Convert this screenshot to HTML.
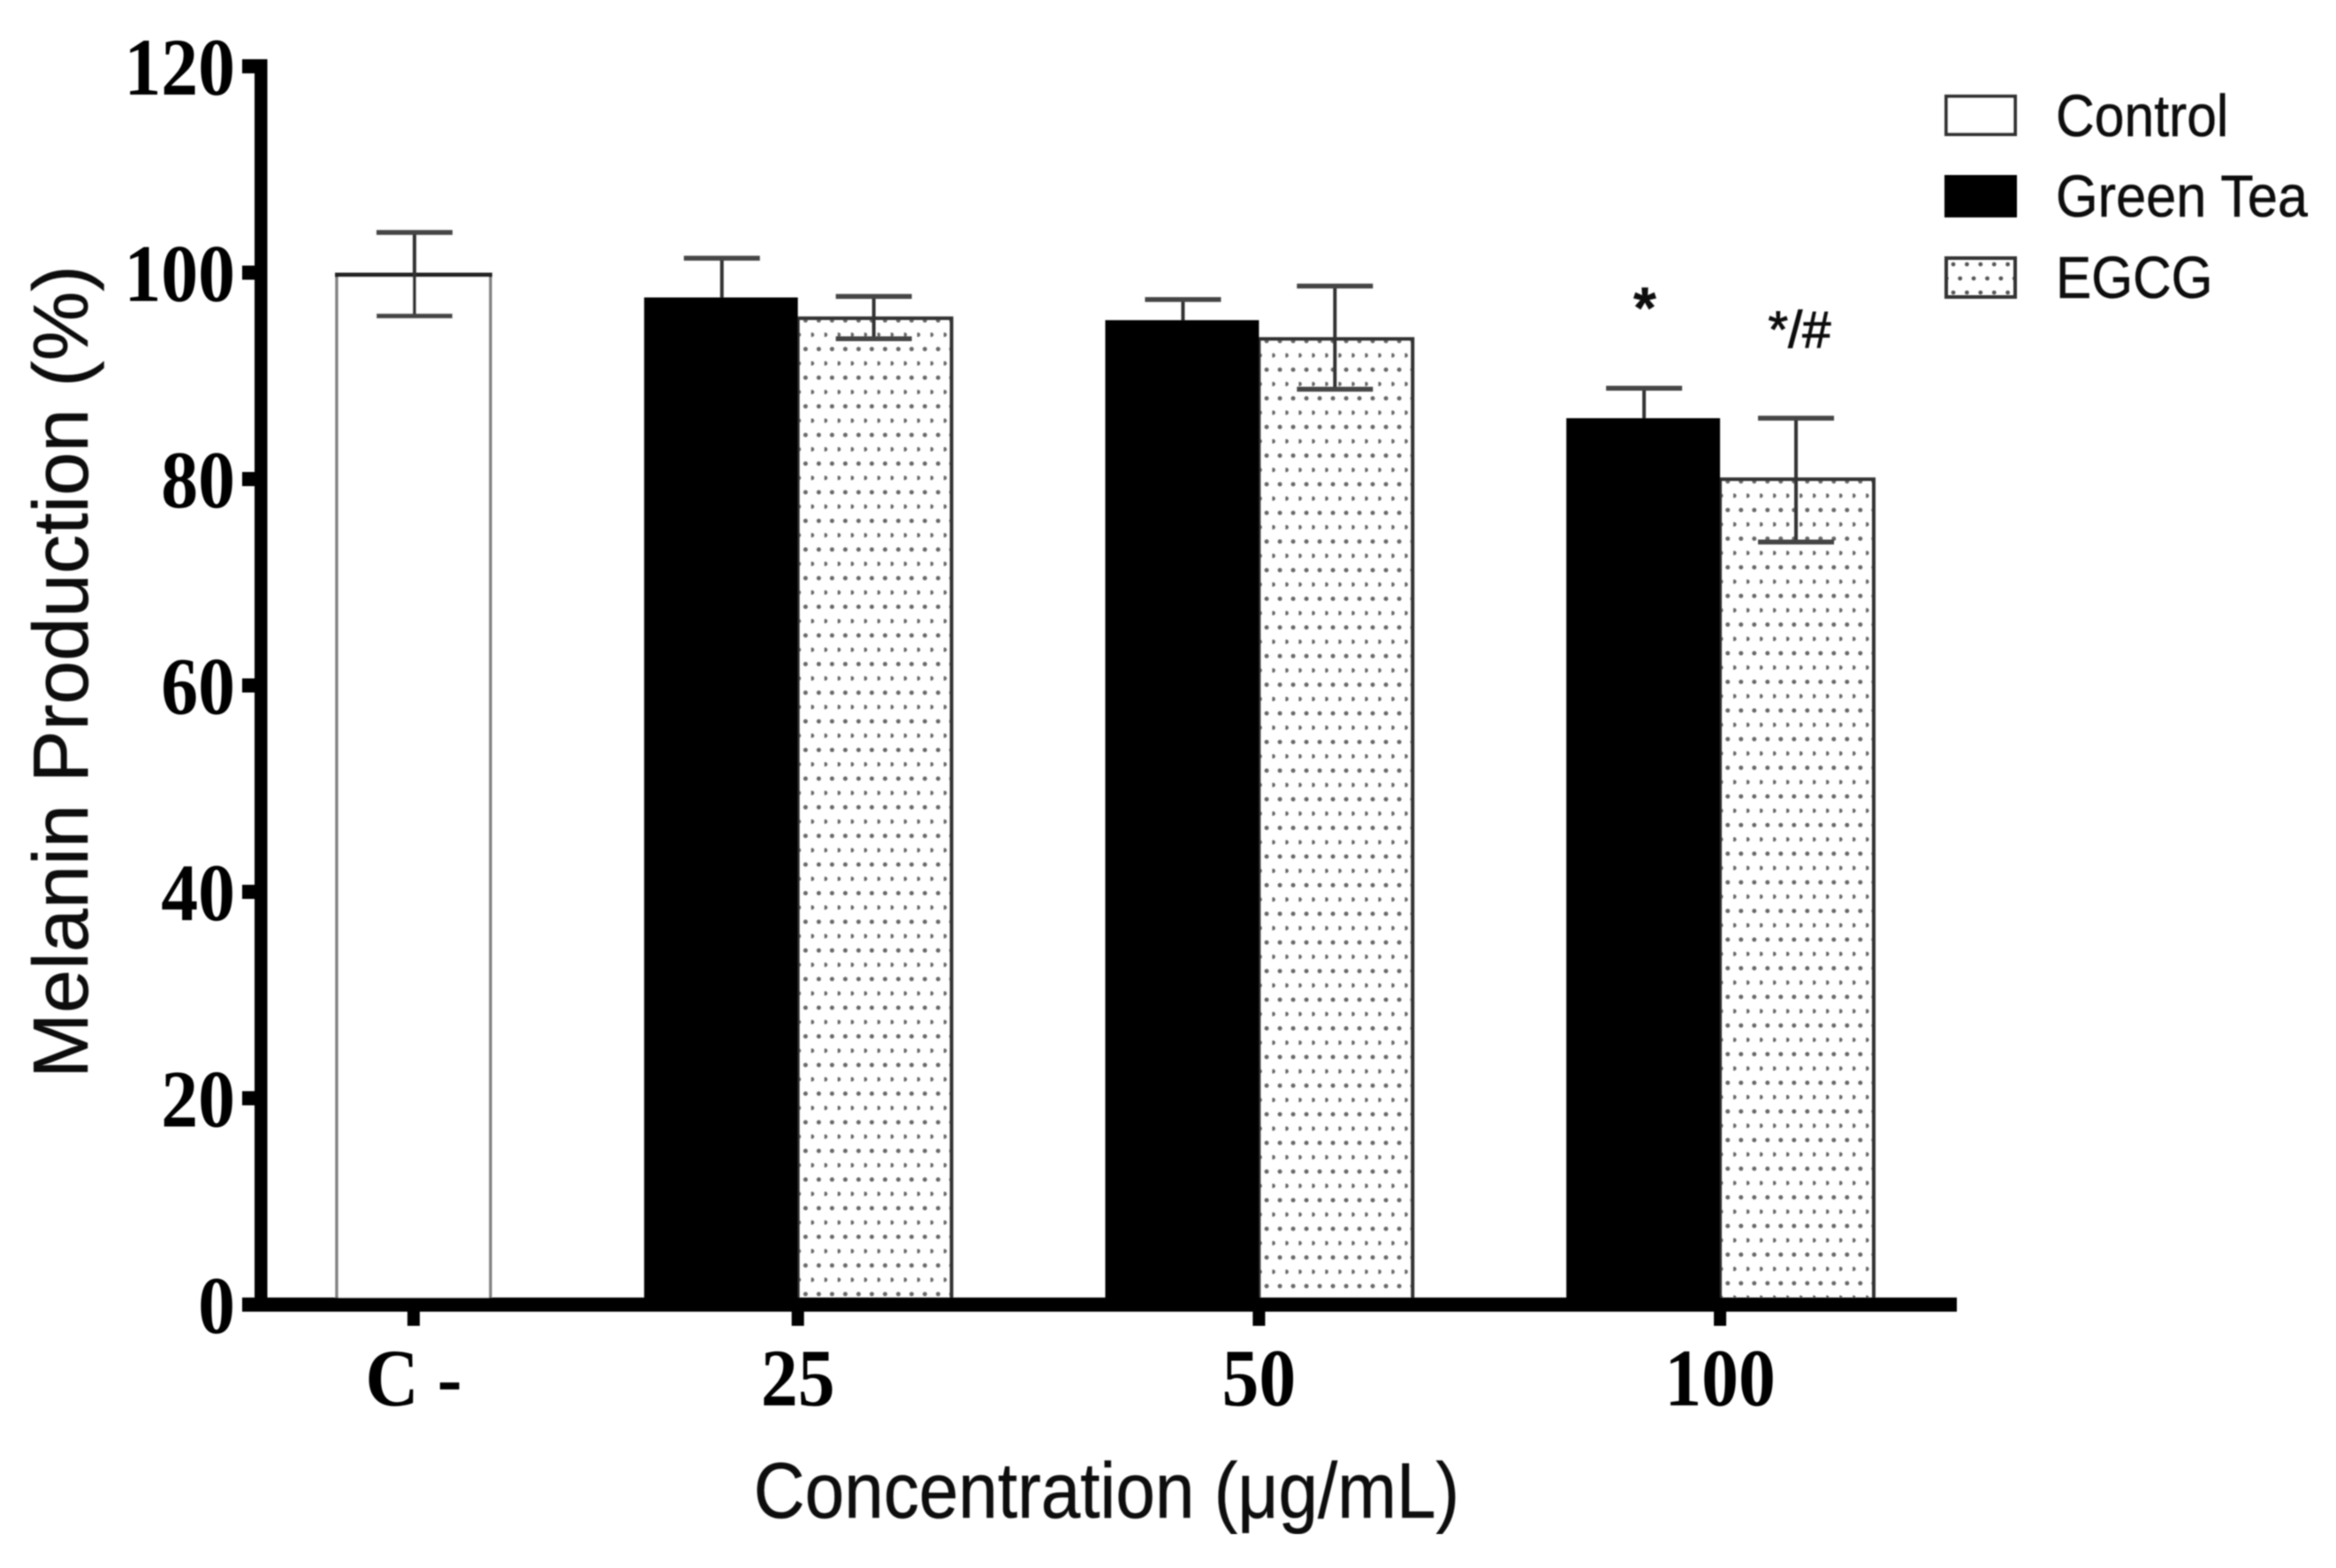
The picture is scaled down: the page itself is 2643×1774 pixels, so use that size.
<!DOCTYPE html>
<html lang="en">
<head>
<meta charset="utf-8">
<title>Melanin Production Chart</title>
<style>
html,body{margin:0;padding:0;background:#fff;}
svg{display:block;}
.sans{font-family:"Liberation Sans",Arial,sans-serif;fill:#111;stroke:#111;stroke-width:0.5px;}
.serif{font-family:"Liberation Serif","Times New Roman",serif;font-weight:700;fill:#000;}
</style>
</head>
<body>
<svg id="chart" xmlns="http://www.w3.org/2000/svg" width="2643" height="1774" viewBox="0 0 2643 1774">
  <defs>
    <filter id="soft" x="0" y="0" width="100%" height="100%"><feGaussianBlur stdDeviation="0.7"/></filter>
    <pattern id="legend-dots" patternUnits="userSpaceOnUse" width="15.4" height="32" patternTransform="translate(2200 290)">
      <circle cx="10" cy="9" r="2.4" fill="#555"/>
      <circle cx="17.6" cy="25" r="2.4" fill="#555"/>
      <circle cx="2.3" cy="25" r="2.4" fill="#555"/>
    </pattern>
  </defs>
  <rect x="0" y="0" width="2643" height="1774" fill="#fff"/>
  <g id="plot" filter="url(#soft)">
    <g id="bars"></g>
    <g id="errors"></g>
    <g id="axes"></g>
    <text class="sans" transform="translate(99 760) rotate(-90)" text-anchor="middle" font-size="88.5">Melanin Production (%)</text>
    <text class="sans" transform="translate(1252 1717) scale(0.9 1)" text-anchor="middle" font-size="89">Concentration (μg/mL)</text>
    <text class="sans" x="1861" y="371" text-anchor="middle" font-size="66" font-weight="700">*</text>
    <text class="sans" x="2036" y="393" text-anchor="middle" font-size="58" style="stroke-width:1px">*/#</text>
    <g>
      <g>
        <rect x="2202" y="109" width="78" height="43" fill="#fff" stroke="#333" stroke-width="4"/>
        <text class="sans" transform="translate(2326 154) scale(0.905 1)" font-size="67">Control</text>
      </g>
      <g>
        <rect x="2200" y="198" width="82" height="48" fill="#000"/>
        <text class="sans" transform="translate(2326 245) scale(0.915 1)" font-size="67">Green Tea</text>
      </g>
      <g>
        <rect x="2202" y="292" width="78" height="44" fill="url(#legend-dots)" stroke="#333" stroke-width="4"/>
        <text class="sans" transform="translate(2326 337) scale(0.9 1)" font-size="67">EGCG</text>
      </g>
    </g>
  </g>
</svg>
<script>
const categories = ['C -', '25', '50', '100'];
const yTickValues = [0, 20, 40, 60, 80, 100, 120];
const controlValues = [100];
const controlHigh = [103.9];
const controlLow = [95.8];
const greenTeaValues = [97.6, 95.4, 85.9];
const greenTeaHigh = [101.4, 97.4, 88.8];
const greenTeaLow = [93.8, 93.4, 83.0];
const egcgValues = [95.8, 93.8, 80.2];
const egcgHigh = [97.7, 98.7, 85.9];
const egcgLow = [93.6, 88.7, 73.9];

const NS = 'http://www.w3.org/2000/svg';
const baseY = 1476;
const unitY = 11.675;
const originX = 381;
const band = 173.9;
function y(v) { return baseY - v * unitY; }
function x(slot) { return originX + slot * band; }
function groupSlot(i) { return i === 0 ? 0 : 3 * i - 1; }
function tickSlot(i) { return i === 0 ? 0.5 : groupSlot(i) + 1; }
function make(parent, tag, attrs) {
  const el = document.createElementNS(NS, tag);
  Object.keys(attrs).forEach(function (k) { el.setAttribute(k, attrs[k]); });
  parent.appendChild(el);
  return el;
}
const chart = document.getElementById('chart');
const defs = chart.querySelector('defs');
const barsG = document.getElementById('bars');
const errorsG = document.getElementById('errors');
const axesG = document.getElementById('axes');

function drawError(parent, center, high, low, label) {
  const g = make(parent, 'g', {});
  
  
  make(g, 'line', { x1: center, x2: center, y1: y(high), y2: y(low), stroke: '#333', 'stroke-width': 4 });
  make(g, 'line', { x1: center - 43, x2: center + 43, y1: y(high), y2: y(high), stroke: '#444', 'stroke-width': 5.5 });
  make(g, 'line', { x1: center - 43, x2: center + 43, y1: y(low), y2: y(low), stroke: '#444', 'stroke-width': 5.5 });
}

function drawDottedBar(slot, value, label) {
  const left = x(slot);
  const top = y(value);
  const p = make(defs, 'pattern', {
    id: 'dots-' + label,
    patternUnits: 'userSpaceOnUse',
    width: 15,
    height: 32.4,
    patternTransform: 'translate(' + left + ' ' + top + ')'
  });
  make(p, 'circle', { cx: 8.7, cy: 5, r: 2.5, fill: '#666' });
  make(p, 'circle', { cx: 1, cy: 21.2, r: 2.5, fill: '#666' });
  const bar = make(barsG, 'rect', {
    x: left, y: top + 2.5, width: band, height: 1470 - top - 2.5,
    fill: 'url(#dots-' + label + ')', stroke: '#333', 'stroke-width': 4
  });
  
  
}

function drawSolidBar(slot, value, label) {
  const bar = make(barsG, 'rect', {
    x: x(slot), y: y(value), width: band, height: 1470 - y(value), fill: '#000'
  });
  
  
}

controlValues.forEach(function (v, i) {
  const bar = make(barsG, 'rect', {
    x: x(groupSlot(i)), y: y(v) + 2, width: band, height: 1470 - y(v) - 2,
    fill: '#fff', stroke: '#808080', 'stroke-width': 3.5
  });
  
  
  const topLine = make(barsG, 'line', {
    x1: x(groupSlot(i)) - 2, x2: x(groupSlot(i)) + band + 2, y1: y(v) + 2.5, y2: y(v) + 2.5,
    stroke: '#222', 'stroke-width': 5
  });
  
  
  drawError(errorsG, x(groupSlot(i)) + band / 2 + 1, controlHigh[i], controlLow[i], 'control');
});

egcgValues.forEach(function (v, i) {
  drawDottedBar(groupSlot(i + 1) + 1, v, categories[i + 1]);
});
greenTeaValues.forEach(function (v, i) {
  drawError(barsG, x(groupSlot(i + 1)) + band / 2 + 1, greenTeaHigh[i], greenTeaLow[i], 'green-tea-' + categories[i + 1]);
});
greenTeaValues.forEach(function (v, i) {
  drawSolidBar(groupSlot(i + 1), v, categories[i + 1]);
});
egcgValues.forEach(function (v, i) {
  drawError(errorsG, x(groupSlot(i + 1) + 1) + band / 2 - 1, egcgHigh[i], egcgLow[i], 'egcg-' + categories[i + 1]);
});

const yAxisLine = make(axesG, 'rect', { x: 288, y: 67, width: 14.5, height: baseY + 8 - 67, fill: '#000' });


const xAxisLine = make(axesG, 'rect', { x: 274, y: baseY - 8, width: 2214 - 274, height: 16, fill: '#000' });



yTickValues.forEach(function (v) {
  const tick = make(axesG, 'rect', { x: 274, y: y(v) - 8, width: 15, height: 16, fill: '#000' });
  
  
  const label = make(axesG, 'text', {
    class: 'serif', 'font-size': 92, 'text-anchor': 'end',
    transform: 'translate(266 ' + (y(v) + 32) + ') scale(0.91 1)'
  });
  label.textContent = String(v);
  
  
});

categories.forEach(function (c, i) {
  const cx = x(tickSlot(i));
  const tick = make(axesG, 'rect', { x: cx - 7, y: baseY, width: 14, height: 24, fill: '#000' });
  
  
  const label = make(axesG, 'text', {
    class: 'serif', 'font-size': 92, 'text-anchor': 'middle',
    transform: 'translate(' + (cx) + ' 1590) scale(0.91 1)'
  });
  label.textContent = c;
  
  
});
</script>
</body>
</html>
